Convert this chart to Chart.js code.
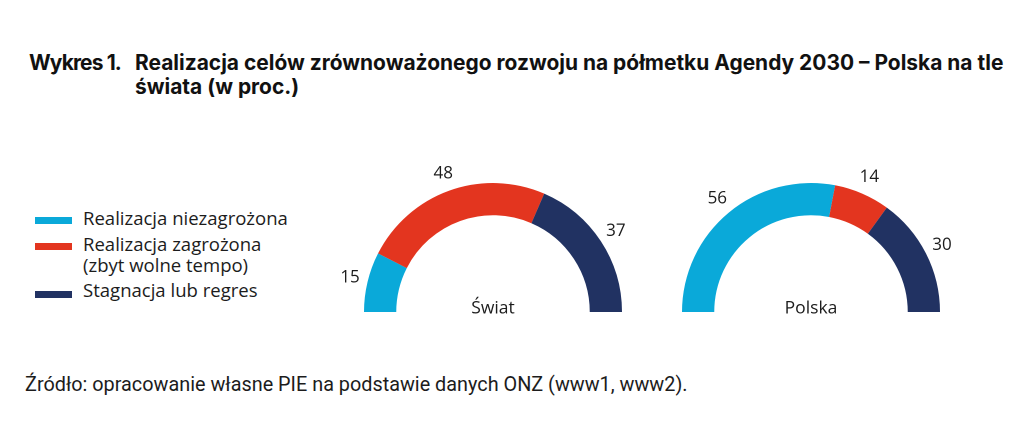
<!DOCTYPE html>
<html>
<head>
<meta charset="utf-8">
<script src="https://cdn.jsdelivr.net/npm/chart.js@4"></script>
<style>
  html, body { margin: 0; padding: 0; background: #fff; }
  #wrap { position: relative; width: 1024px; height: 432px; overflow: hidden; background: #fff; }
  .t { position: absolute; white-space: nowrap; line-height: 1; color: #1c1c1c; }
  .title { font-family: "Inter", "Open Sans", sans-serif; font-weight: 700; font-size: 18px; color: #111; }
  .leg { font-family: "Open Sans", "Noto Sans", sans-serif; font-size: 16px; }
  .src { font-family: "Roboto", "Liberation Sans", sans-serif; font-size: 16px; }
  .sw { position: absolute; width: 37px; height: 7px; }
  canvas { position: absolute; }
</style>
</head>
<body>
<div id="wrap"></div>
<script>
// ---- data ----
const categories = [
  ['Realizacja niezagrożona'],
  ['Realizacja zagrożona', '(zbyt wolne tempo)'],
  ['Stagnacja lub regres']
];
const swiatValues = [15, 48, 37];
const polskaValues = [56, 14, 30];
const chartNames = ['Świat', 'Polska'];
const titlePrefix = 'Wykres 1.';
const titleLines = ['Realizacja celów zrównoważonego rozwoju na półmetku Agendy 2030 – Polska na tle', 'świata (w proc.)'];
const sourceText = 'Źródło: opracowanie własne PIE na podstawie danych ONZ (www1, www2).';
const colors = ['#0aa9d9', '#e3351f', '#213262'];

const wrap = document.getElementById('wrap');

function addText(cls, text, x, baseline, fitWidth) {
  const d = document.createElement('div');
  d.className = 't ' + cls;
  d.textContent = text;
  const strut = document.createElement('span');
  strut.style.cssText = 'display:inline-block;width:0;height:0;';
  d.appendChild(strut);
  d.style.left = x + 'px';
  d.style.top = '0px';
  wrap.appendChild(d);
  d._baseline = baseline; d._fit = fitWidth; d._strut = strut;
  return d;
}
const texts = [];
const pre = addText('title', titlePrefix, 29, 69.5);
texts.push(pre);
const tl1 = addText('title', titleLines[0], 135, 69.5, 869);
const tl2 = addText('title', titleLines[1], 135, 93.5);
texts.push(tl1, tl2);
const legBaselines = [[225], [250.7, 272.3], [296.7]];
const swY = [217, 243, 290.5];
categories.forEach((lines, i) => {
  const sw = document.createElement('div');
  sw.className = 'sw';
  sw.style.left = '35px';
  sw.style.top = swY[i] + 'px';
  sw.style.background = colors[i];
  wrap.appendChild(sw);
  lines.forEach((ln, j) => {
    texts.push(addText('leg', ln, 83, legBaselines[i][j], (i === 0 && j === 0) ? 205 : null));
  });
});
const srcEl = addText('src', sourceText, 25, 391, 663);
texts.push(srcEl);

function layoutTexts() {
  texts.forEach(d => {
    if (d._fit) {
      const w = d.getBoundingClientRect().width;
      const fs = parseFloat(getComputedStyle(d).fontSize);
      const nfs = fs * d._fit / w;
      if (d === tl1) { texts.forEach(o => { if (o.classList.contains('title')) o.style.fontSize = nfs + 'px'; }); }
      if (d.classList.contains('leg')) { texts.forEach(o => { if (o.classList.contains('leg')) o.style.fontSize = nfs + 'px'; }); }
      d.style.fontSize = nfs + 'px';
    }
  });
  // keep prefix within its column: tighten letter spacing to match reference width
  pre.style.letterSpacing = '0px';
  const pw = pre.getBoundingClientRect().width;
  const n = titlePrefix.length;
  pre.style.letterSpacing = ((92 - pw) / n) + 'px';
  const wr = wrap.getBoundingClientRect();
  texts.forEach(d => {
    const b = d._strut.getBoundingClientRect().top - wr.top;
    const cur = parseFloat(d.style.top);
    d.style.top = (cur + d._baseline - b) + 'px';
  });
}

// ---- charts ----
const R = 129, padL = 42, padR = 42, padT = 36, padB = 8;
function makeChart(values, name, cx, cy) {
  const c = document.createElement('canvas');
  const w = 2 * R + padL + padR, h = R + padT + padB;
  c.width = w; c.height = h;
  c.style.width = w + 'px'; c.style.height = h + 'px';
  c.style.left = (cx - R - padL) + 'px';
  c.style.top = (cy - R - padT) + 'px';
  wrap.appendChild(c);
  const labelPlugin = {
    id: 'lbl',
    afterDraw(chart) {
      const ctx = chart.ctx;
      const meta = chart.getDatasetMeta(0);
      ctx.save();
      ctx.fillStyle = '#1c1c1c';
      ctx.font = '17px "Open Sans", "Noto Sans", sans-serif';
      ctx.textAlign = 'center';
      ctx.textBaseline = 'middle';
      meta.data.forEach((arc, i) => {
        const p = arc.getProps(['x', 'y', 'startAngle', 'endAngle', 'outerRadius'], true);
        const a = (p.startAngle + p.endAngle) / 2;
        const r = p.outerRadius + 18;
        ctx.fillText(String(chart.data.datasets[0].data[i]), p.x + r * Math.cos(a), p.y + r * Math.sin(a));
      });
      const a0 = meta.data[0];
      ctx.textBaseline = 'alphabetic';
      ctx.font = '17.5px "Open Sans", "Noto Sans", sans-serif';
      ctx.fillText(name, a0.x, a0.y + 1.5);
      ctx.restore();
    }
  };
  return new Chart(c, {
    type: 'doughnut',
    data: {
      labels: categories.map(l => l.join(' ')),
      datasets: [{ data: values, backgroundColor: colors, borderWidth: 0, hoverOffset: 0 }]
    },
    options: {
      responsive: false,
      animation: false,
      devicePixelRatio: 2,
      rotation: -90,
      circumference: 180,
      cutout: '75%',
      layout: { padding: { left: padL, right: padR, top: padT, bottom: padB } },
      plugins: { legend: { display: false }, tooltip: { enabled: false } },
      events: []
    },
    plugins: [labelPlugin]
  });
}
makeChart(swiatValues, chartNames[0], 492.5, 312);
makeChart(polskaValues, chartNames[1], 811, 312);

layoutTexts();
if (document.fonts && document.fonts.ready) document.fonts.ready.then(() => { texts.forEach(d=>{d.style.fontSize='';}); layoutTexts(); });
</script>
</body>
</html>
